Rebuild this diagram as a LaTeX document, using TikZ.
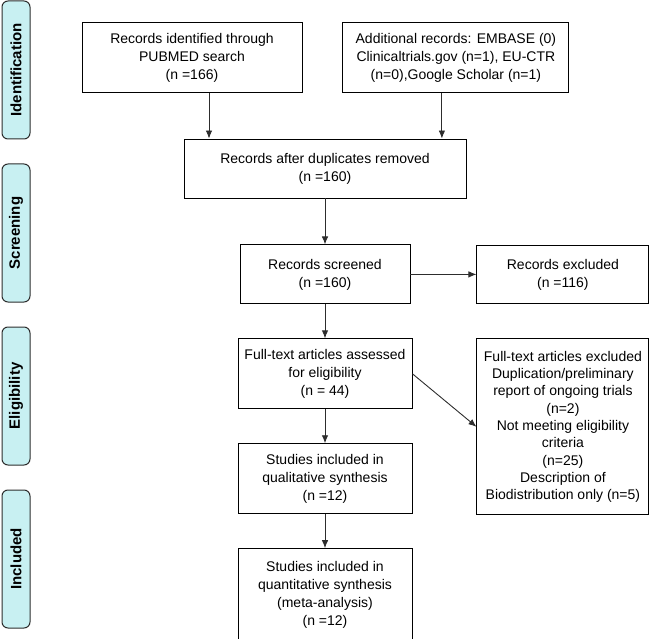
\documentclass[tikz,border=0pt]{standalone}
\usepackage{fontspec}
\setmainfont{Liberation Sans}
\usepackage{tikz}
\usetikzlibrary{arrows.meta,positioning}
\definecolor{stagecyan}{RGB}{200,240,242}
\definecolor{linegray}{RGB}{45,45,45}
\tikzstyle{box} = [rectangle, draw=black, line width=0.9pt, align=center, text=black, font=\fontsize{14}{18}\selectfont, inner sep=2pt]
\tikzstyle{stage} = [rectangle, rounded corners=6pt, draw=linegray, line width=1pt, fill=stagecyan, font=\fontsize{15}{18}\selectfont\bfseries, minimum width=28pt, minimum height=138pt, inner sep=0pt]
\tikzstyle{flow}  = [draw=linegray, line width=0.9pt, >={Latex[length=8pt,width=6.5pt]}, ->]

\begin{document}
\begin{tikzpicture}[x=1pt, y=-1pt]
\useasboundingbox (0,0) rectangle (650,639);

% stages =============================
\node[stage] (ident) at (16,70) {\rotatebox{90}{Identification}};
\node[stage, below=24pt of ident] (screen) {\rotatebox{90}{Screening}};
\node[stage, below=24pt of screen] (elig) {\rotatebox{90}{Eligibility}};
\node[stage, below=24pt of elig] (incl) {\rotatebox{90}{Included}};

% identification
\node[box, minimum width=220pt, minimum height=70pt] (pubmed) at (192,57.5) {Records identified through\\PUBMED search\\(n =166)};
\node[box, minimum width=226pt, minimum height=70pt, right=40pt of pubmed] (other) {Additional records: EMBASE (0)\\Clinicaltrials.gov (n=1), EU-CTR\\(n=0),Google Scholar (n=1)};

% screening
\node[box, minimum width=282pt, minimum height=59pt] (dupl) at (325,168.5) {Records after duplicates removed\\(n =160)};
\node[box, minimum width=170pt, minimum height=59pt, below=46pt of dupl] (screened) {Records screened\\(n =160)};
\node[box, minimum width=172pt, minimum height=58pt, right=66pt of screened] (excl) {Records excluded\\(n =116)};

% eligibility
\node[box, minimum width=174pt, minimum height=70pt, below=34pt of screened] (fulltext) {Full-text articles assessed\\for eligibility\\(n = 44)};
\node[box, minimum width=172pt, minimum height=176pt, right=64pt of fulltext.north east, anchor=north west, font=\fontsize{14}{17.3}\selectfont] (fullexcl) {Full-text articles excluded\\Duplication/preliminary\\report of ongoing trials\\(n=2)\\Not meeting eligibility\\criteria\\(n=25)\\Description of\\Biodistribution only (n=5)};

% included
\node[box, minimum width=174pt, minimum height=70pt, below=34pt of fulltext] (qual) {Studies included in\\qualitative synthesis\\(n =12)};
\node[box, minimum width=174pt, minimum height=92pt, below=34pt of qual] (quant) {Studies included in\\quantitative synthesis\\(meta-analysis)\\(n =12)};

% edges
\path[flow] ([xshift=17pt]pubmed.south) -- ([xshift=17pt]pubmed.south |- dupl.north);
\path[flow] ([xshift=-14pt]other.south) -- ([xshift=-14pt]other.south |- dupl.north);
\path[flow] (dupl) -- (screened);
\path[flow] (screened) -- (excl);
\path[flow] (screened) -- (fulltext);
\path[flow] (fulltext.east) -- (fullexcl.west);
\path[flow] (fulltext) -- (qual);
\path[flow] (qual) -- (quant);

\end{tikzpicture}
\end{document}
